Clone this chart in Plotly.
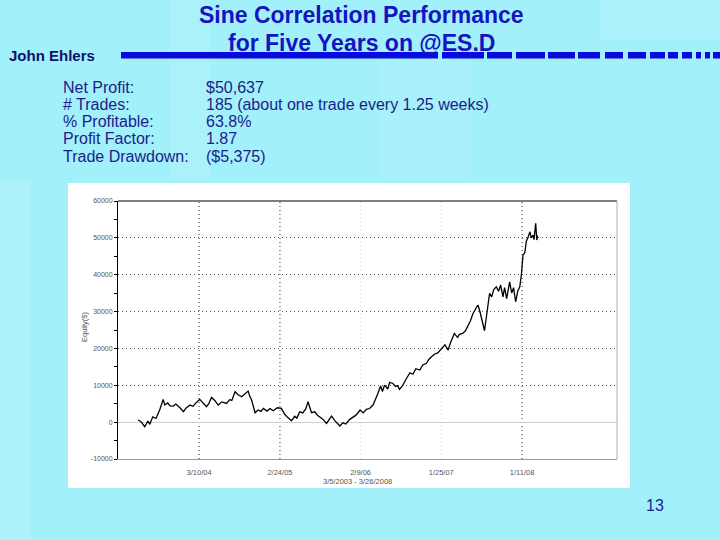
import plotly.graph_objects as go

# ---- data ----
dates = [
    "2003-06-19", "2003-07-01", "2003-07-18", "2003-08-01", "2003-08-09", "2003-08-22", "2003-09-05",
    "2003-09-22", "2003-10-06", "2003-10-13", "2003-10-26", "2003-11-05", "2003-11-19", "2003-11-30",
    "2003-12-18", "2004-01-02", "2004-01-13", "2004-01-30", "2004-02-13", "2004-02-26", "2004-03-13",
    "2004-03-26", "2004-04-11", "2004-04-21", "2004-05-03", "2004-05-17", "2004-06-01", "2004-06-17",
    "2004-07-07", "2004-07-21", "2004-07-30", "2004-08-13", "2004-08-25", "2004-09-11", "2004-09-25",
    "2004-10-09", "2004-10-16", "2004-10-24", "2004-11-08", "2004-11-21", "2004-12-04", "2004-12-14",
    "2004-12-30", "2005-01-12", "2005-01-26", "2005-02-12", "2005-03-02", "2005-03-16", "2005-03-29",
    "2005-04-15", "2005-04-29", "2005-05-08", "2005-05-21", "2005-06-03", "2005-06-16", "2005-06-26",
    "2005-07-11", "2005-07-25", "2005-08-07", "2005-08-16", "2005-08-29", "2005-09-14", "2005-09-24",
    "2005-10-06", "2005-10-20", "2005-11-03", "2005-11-11", "2005-11-24", "2005-12-07", "2005-12-24",
    "2006-01-07", "2006-01-20", "2006-02-07", "2006-02-20", "2006-03-06", "2006-03-20", "2006-04-04",
    "2006-04-16", "2006-04-25", "2006-05-07", "2006-05-15", "2006-05-24", "2006-06-07", "2006-06-15",
    "2006-06-29", "2006-07-11", "2006-07-19", "2006-07-28", "2006-08-11", "2006-08-24", "2006-09-11",
    "2006-09-24", "2006-10-07", "2006-10-24", "2006-11-06", "2006-11-22", "2006-12-02", "2006-12-14",
    "2006-12-28", "2007-01-10", "2007-01-26", "2007-02-10", "2007-02-24", "2007-03-06", "2007-03-23",
    "2007-04-06", "2007-04-14", "2007-04-28", "2007-05-10", "2007-05-20", "2007-06-01", "2007-06-11",
    "2007-06-23", "2007-07-03", "2007-07-10", "2007-07-17", "2007-07-23", "2007-08-01", "2007-08-10",
    "2007-08-16", "2007-08-23", "2007-09-01", "2007-09-10", "2007-09-21", "2007-10-01", "2007-10-10",
    "2007-10-20", "2007-10-27", "2007-11-05", "2007-11-18", "2007-11-27", "2007-12-05", "2007-12-14",
    "2007-12-23", "2008-01-01", "2008-01-08", "2008-01-15", "2008-01-23", "2008-01-29", "2008-02-07",
    "2008-02-14", "2008-02-20", "2008-02-28", "2008-03-03", "2008-03-10", "2008-03-15", "2008-03-18",
]
equity = [
    570, 200, -1250, 300, -600, 1450, 1000,
    3500, 6170, 4640, 5200, 4400, 4370, 4900,
    3900, 2830, 3800, 4640, 4300, 5300, 6170,
    5200, 4180, 5000, 6700, 5900, 4640, 5500,
    5070, 6100, 5900, 8250, 7500, 6890, 7800,
    8440, 7000, 6000, 2550, 3300, 2900, 3740,
    3000, 3700, 3100, 3900, 3740, 2200, 1300,
    380, 1600, 1100, 2830, 2500, 3600, 5530,
    2550, 2800, 1800, 1460, 800, -330, 700,
    1650, 400, -500, -1060, -200, -500, 760,
    1300, 1900, 3280, 2500, 3470, 3700, 4640,
    6300, 7800, 9800, 8300, 10050, 9000, 10800,
    10500, 9700, 9900, 8880, 10000, 11500, 13400,
    13000, 14500, 14140, 15500, 15950, 17000, 17750,
    18500, 18800, 20020, 21000, 19560, 21500, 24080,
    23000, 23800, 24080, 24800, 25880, 27500, 29330,
    30500, 31770, 30500, 28600, 27000, 24800, 29000,
    32500, 34920, 34000, 36000, 36720, 35500, 37200,
    34010, 36500, 33500, 38080, 35000, 36500, 32660,
    35500, 36720, 40000, 45330, 46000, 49000, 50300,
    51650, 50000, 50750, 49500, 53930, 49400, 50637,
]
x_tick_dates = ["2004-03-10", "2005-02-24", "2006-02-09", "2007-01-25", "2008-01-11"]
x_tick_labels = ["3/10/04", "2/24/05", "2/9/06", "1/25/07", "1/11/08"]
x_grid_strong = [True, True, False, False, True]
y_ticks = [-10000, 0, 10000, 20000, 30000, 40000, 50000, 60000]
y_tick_labels = ["-10000", "0", "10000", "20000", "30000", "40000", "50000", "60000"]

stat_labels = ["Net Profit:", "# Trades:", "% Profitable:", "Profit Factor:", "Trade Drawdown:"]
stat_values = ["$50,637", "185 (about one trade every 1.25 weeks)", "63.8%", "1.87", "($5,375)"]

title_lines = ["Sine Correlation Performance", "for Five Years on @ES.D"]
author = "John Ehlers"
page_number = "13"
x_title = "3/5/2003 - 3/26/2008"
y_title = "Equity($)"

# ---- layout geometry (pixels) ----
W, H = 720, 540
L, R, T, B = 118, 617, 201, 459
pw, ph = R - L, B - T


def px(xp):
    return (xp - L) / pw


def py(yp):
    return (B - yp) / ph


FONT = "Arial, Liberation Sans, sans-serif"
NAVY = "#1c1c8a"
BLUE = "#1414c0"

fig = go.Figure()
fig.add_trace(go.Scatter(x=dates, y=equity, mode="lines",
                         line=dict(color="black", width=1.3), showlegend=False,
                         hoverinfo="skip"))

shapes = []
# subtle background light streaks
for (x0, x1, y0, y1, op) in [(0, 30, 180, 540, 0.12), (170, 210, 0, 180, 0.10),
                             (600, 720, 0, 40, 0.10), (380, 470, 60, 180, 0.08)]:
    shapes.append(dict(type="rect", xref="paper", yref="paper", layer="below",
                       x0=px(x0), x1=px(x1), y0=py(y1), y1=py(y0),
                       fillcolor="white", opacity=op, line=dict(width=0)))
# white chart panel
shapes.append(dict(type="rect", xref="paper", yref="paper", layer="below",
                   x0=px(68), x1=px(630), y0=py(488), y1=py(183),
                   fillcolor="white", line=dict(width=0)))
# header bar: solid then dashes
bar_segments = [(121, 438), (442, 484), (487, 512), (516, 545), (548, 575), (578, 600),
                (605, 623), (628, 646), (650, 665), (668, 678), (682, 692), (696, 701),
                (705, 710), (713, 720)]
for a, b in bar_segments:
    shapes.append(dict(type="rect", xref="paper", yref="paper", layer="below",
                       x0=px(a), x1=px(b), y0=py(58.5), y1=py(52),
                       fillcolor="#0a0ae0", line=dict(width=0)))
# vertical grid lines at tick dates
for d, strong in zip(x_tick_dates, x_grid_strong):
    shapes.append(dict(type="line", xref="x", yref="paper", x0=d, x1=d, y0=0, y1=1,
                       layer="below",
                       line=dict(color="#333333" if strong else "#d8d8d8", width=1,
                                 dash="1px,3px")))
# frame: top black, right grey
shapes.append(dict(type="line", xref="paper", yref="paper", x0=0, x1=1, y0=1, y1=1,
                   line=dict(color="black", width=1.2)))
shapes.append(dict(type="line", xref="paper", yref="paper", x0=1, x1=1, y0=0, y1=1,
                   line=dict(color="#b0b0b0", width=1)))

annotations = []
for i, t in enumerate(title_lines):
    yy = 15 + i * 28
    annotations.append(dict(text=f"<b>{t}</b>", xref="paper", yref="paper",
                            x=px(361), y=py(yy), xanchor="center", yanchor="middle",
                            showarrow=False, font=dict(family=FONT, size=23, color=BLUE)))
annotations.append(dict(text=f"<b>{author}</b>", xref="paper", yref="paper",
                        x=px(7), y=py(56), xanchor="left", yanchor="middle", showarrow=False,
                        font=dict(family=FONT, size=15, color="#10106a")))
for i, (lab, val) in enumerate(zip(stat_labels, stat_values)):
    yy = 87 + i * 17.3
    annotations.append(dict(text=lab, xref="paper", yref="paper", x=px(61), y=py(yy),
                            xanchor="left", yanchor="middle", showarrow=False,
                            font=dict(family=FONT, size=16, color=NAVY)))
    annotations.append(dict(text=val, xref="paper", yref="paper", x=px(204), y=py(yy),
                            xanchor="left", yanchor="middle", showarrow=False,
                            font=dict(family=FONT, size=16, color=NAVY)))
annotations.append(dict(text=page_number, xref="paper", yref="paper", x=px(655), y=py(505),
                        xanchor="center", yanchor="middle", showarrow=False,
                        font=dict(family=FONT, size=16, color=NAVY)))
annotations.append(dict(text=x_title, xref="paper", yref="paper", x=px(357), y=py(481),
                        xanchor="center", yanchor="middle", showarrow=False,
                        font=dict(family=FONT, size=7.5, color="#555555")))
annotations.append(dict(text=y_title, xref="paper", yref="paper", x=px(84), y=py(327),
                        xanchor="center", yanchor="middle", showarrow=False, textangle=-90,
                        font=dict(family=FONT, size=7.5, color="#555555")))

fig.update_layout(
    width=W, height=H,
    margin=dict(l=L, r=W - R, t=T, b=H - B, pad=0),
    paper_bgcolor="#a2f0fa",
    plot_bgcolor="white",
    shapes=shapes,
    annotations=annotations,
    showlegend=False,
    xaxis=dict(type="date", range=["2003-03-24", "2009-02-26"],
               tickvals=x_tick_dates, ticktext=x_tick_labels,
               showgrid=False, zeroline=False, showline=True, linecolor="#9a9a9a",
               linewidth=1, ticks="", tickfont=dict(family=FONT, size=7.5, color="#555555"),
               ticklabelstandoff=6),
    yaxis=dict(range=[-10000, 60000], tickvals=y_ticks, ticktext=y_tick_labels,
               showgrid=True, gridcolor="#555555", griddash="1px,3px", gridwidth=1,
               zeroline=True, zerolinecolor="#cfcfcf", zerolinewidth=1.2,
               showline=True, linecolor="black", linewidth=1,
               ticks="outside", ticklen=3, tickcolor="black",
               minor=dict(dtick=5000, ticks="outside", ticklen=3, tickcolor="black", showgrid=False),
               tickfont=dict(family=FONT, size=7, color="#555555")),
)

fig.write_html("out.html")
